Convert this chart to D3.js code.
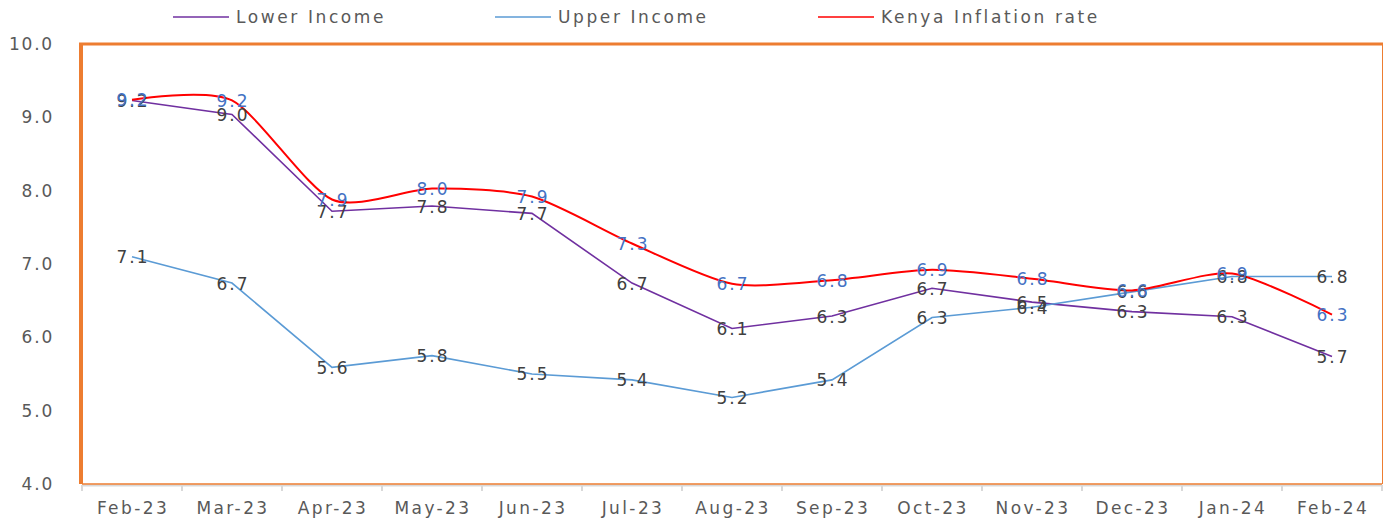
<!DOCTYPE html>
<html lang="en">
<head>
  <meta charset="UTF-8">
  <title>Income Group Inflation vs Kenya Inflation</title>
  <style>
    body { margin: 0; background: #fff; font-family: "DejaVu Sans", Verdana, sans-serif; }
    svg text { fill: #595959; }
  </style>
</head>
<body>
  <svg id="chart" width="1384" height="520"></svg>
  <script src="https://d3js.org/d3.v7.min.js"></script>
  <script>
    const months = ["Feb-23", "Mar-23", "Apr-23", "May-23", "Jun-23", "Jul-23", "Aug-23",
                    "Sep-23", "Oct-23", "Nov-23", "Dec-23", "Jan-24", "Feb-24"];
    const lowerIncome = [9.23, 9.04, 7.72, 7.79, 7.69, 6.74, 6.12, 6.29, 6.67, 6.48, 6.35, 6.28, 5.74];
    const upperIncome = [7.10, 6.74, 5.59, 5.75, 5.50, 5.42, 5.18, 5.42, 6.27, 6.41, 6.62, 6.83, 6.83];
    const kenyaRate   = [9.24, 9.23, 7.88, 8.03, 7.92, 7.28, 6.73, 6.78, 6.92, 6.80, 6.64, 6.87, 6.31];
    const yTicks = [4, 5, 6, 7, 8, 9, 10];

    const series = [
      { name: "Lower Income", values: lowerIncome, color: "#7030A0", width: 1.6, curve: d3.curveLinear, label: "#404040" },
      { name: "Upper Income", values: upperIncome, color: "#5B9BD5", width: 1.6, curve: d3.curveLinear, label: "#404040" },
      { name: "Kenya Inflation rate", values: kenyaRate, color: "#FF0000", width: 2, curve: d3.curveCardinal.tension(0.25), label: "#4472C4" }
    ];

    const svg = d3.select("#chart");
    const pLeft = 82, pRight = 1382, pTop = 44, pBottom = 484;

    const x = d3.scaleBand().domain(months).range([pLeft, pRight]);
    const y = d3.scaleLinear().domain([4, 10]).range([pBottom, pTop]);

    // y tick labels (no axis line)
    svg.append("g").selectAll("text")
      .data(yTicks).enter().append("text")
      .attr("x", 54)
      .attr("y", d => y(d))
      .attr("dy", "0.35em")
      .attr("text-anchor", "end")
      .style("font-size", "17px")
      .style("letter-spacing", "1.8px")
      .text(d => d.toFixed(1));

    // category axis
    const xAxis = svg.append("g")
      .attr("transform", `translate(0, ${pBottom + 1})`)
      .call(d3.axisBottom(x).tickSize(0).tickPadding(17));
    xAxis.select(".domain").attr("stroke", "#d9d9d9").attr("stroke-width", 2);
    xAxis.selectAll("text")
      .style("font-size", "17px")
      .style("letter-spacing", "2.4px")
      .style("font-family", "DejaVu Sans, Verdana, sans-serif")
      .attr("dx", "1px")
      .attr("fill", "#595959");
    svg.append("g").selectAll("line")
      .data(d3.range(months.length + 1)).enter().append("line")
      .attr("x1", i => pLeft + i * x.bandwidth())
      .attr("x2", i => pLeft + i * x.bandwidth())
      .attr("y1", pBottom + 1)
      .attr("y2", pBottom + 7)
      .attr("stroke", "#d9d9d9")
      .attr("stroke-width", 2);

    // orange plot border
    svg.append("line").attr("x1", pLeft - 3).attr("x2", pRight + 1).attr("y1", pTop).attr("y2", pTop)
      .attr("stroke", "#ED7D31").attr("stroke-width", 3);
    svg.append("line").attr("x1", pLeft - 1).attr("x2", pLeft - 1).attr("y1", pTop).attr("y2", pBottom)
      .attr("stroke", "#ED7D31").attr("stroke-width", 4);
    svg.append("line").attr("x1", pRight + 0.5).attr("x2", pRight + 0.5).attr("y1", pTop).attr("y2", pBottom)
      .attr("stroke", "#ED7D31").attr("stroke-width", 1);
    svg.append("line").attr("x1", pLeft).attr("x2", pRight).attr("y1", pBottom).attr("y2", pBottom)
      .attr("stroke", "#ED7D31").attr("stroke-width", 1.5);

    const cx = i => x(months[i]) + x.bandwidth() / 2;

    series.forEach(s => {
      const line = d3.line()
        .x((d, i) => cx(i))
        .y(d => y(d))
        .curve(s.curve);
      svg.append("path")
        .datum(s.values)
        .attr("fill", "none")
        .attr("stroke", s.color)
        .attr("stroke-width", s.width)
        .attr("d", line);
    });

    series.forEach(s => {
      svg.append("g").selectAll("text")
        .data(s.values).enter().append("text")
        .attr("x", (d, i) => cx(i) + 1)
        .attr("y", d => y(d))
        .attr("dy", "0.38em")
        .attr("text-anchor", "middle")
        .style("font-size", "17px")
        .style("letter-spacing", "2px")
        .style("fill", s.label)
        .text(d => d.toFixed(1));
    });

    // legend
    const legendX = [173, 495, 818];
    const legend = svg.append("g").selectAll("g")
      .data(series).enter().append("g")
      .attr("transform", (d, i) => `translate(${legendX[i]}, 17)`);
    legend.append("line")
      .attr("x1", 0).attr("x2", 56)
      .attr("stroke", d => d.color)
      .attr("stroke-width", d => d.width === 2 ? 1.6 : 1.4);
    legend.append("text")
      .attr("x", 63)
      .attr("dy", "0.35em")
      .style("font-size", "17px")
      .style("letter-spacing", "2.6px")
      .text(d => d.name);
  </script>
</body>
</html>
